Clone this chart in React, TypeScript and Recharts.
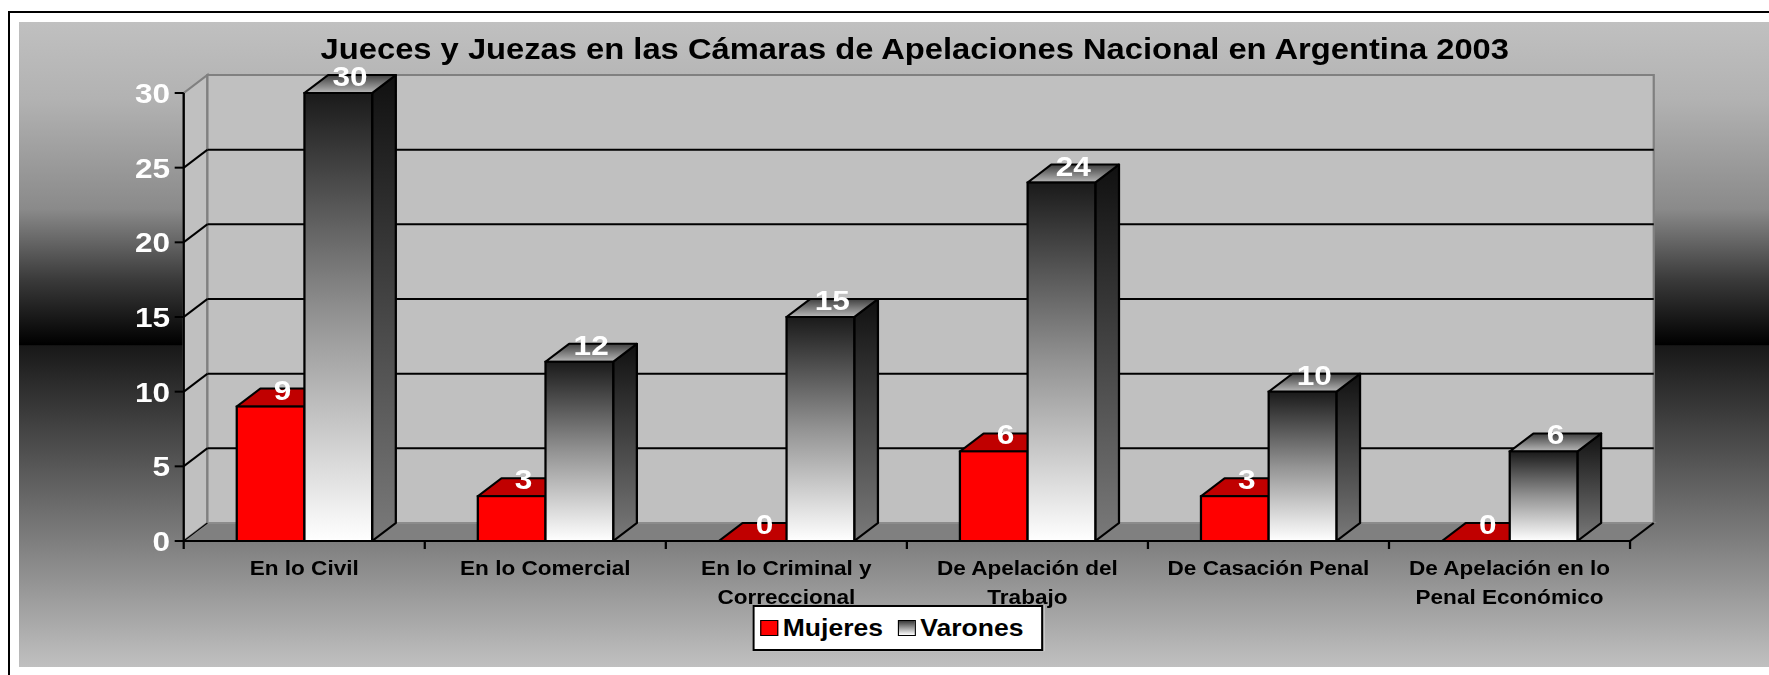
import React from 'react';
import { BarChart, Bar, XAxis, YAxis, CartesianGrid, LabelList, Legend } from 'recharts';

// ---------- data ----------
const chartTitle = 'Jueces y Juezas en las Cámaras de Apelaciones Nacional en Argentina 2003';
const categories = [
  'En lo Civil',
  'En lo Comercial',
  'En lo Criminal y Correccional',
  'De Apelación del Trabajo',
  'De Casación Penal',
  'De Apelación en lo Penal Económico',
];
const mujeres = [9, 3, 0, 6, 3, 0];
const varones = [30, 12, 15, 24, 10, 6];
const seriesNames = ['Mujeres', 'Varones'];
const yTicks = [0, 5, 10, 15, 20, 25, 30];

const data = categories.map((c, i) => ({ name: c, Mujeres: mujeres[i], Varones: varones[i] }));

// ---------- layout ----------
const S = 1769 / 1568; // horizontal stretch of the reference
const W = 1551;
const H = 645;
const DX = 21;
const DY = 18;
const M = { top: 71, right: 123, bottom: 46, left: 86 };
const YW = 60;
const XH = 80;
const plotLeft = M.left + YW;
const plotRight = W - M.right;
const plotTop = M.top;
const plotBottom = H - M.bottom - XH;
const FONT = '"Liberation Sans", Arial, sans-serif';

function wrap(text: string, max: number): string[] {
  const words = text.split(' ');
  const lines: string[] = [];
  let cur = '';
  for (const w of words) {
    const t = cur ? cur + ' ' + w : w;
    if (t.length > max && cur) {
      lines.push(cur);
      cur = w;
    } else cur = t;
  }
  if (cur) lines.push(cur);
  return lines;
}

const XTick = (p: any) => {
  const { x, y, payload, index } = p;
  const band = (plotRight - plotLeft) / categories.length;
  const lines = wrap(String(payload.value), 18);
  return (
    <g>
      <line x1={x - band / 2} y1={y} x2={x - band / 2} y2={y + 8} stroke="#000" strokeWidth={2} />
      {index === categories.length - 1 && (
        <line x1={x + band / 2} y1={y} x2={x + band / 2} y2={y + 8} stroke="#000" strokeWidth={2} />
      )}
      {lines.map((l, i) => (
        <text key={i} x={x} y={y + 34 + i * 29} textAnchor="middle" fontFamily={FONT} fontWeight="bold" fontSize={20} fill="#000">
          {l}
        </text>
      ))}
    </g>
  );
};

const makeShape = (kind: 'm' | 'v') => (p: any) => {
  const { x, y, width: w, height: h } = p;
  if (x == null || y == null) return <g />;
  const front = kind === 'm' ? '#ff0000' : 'url(#gFront)';
  const top = kind === 'm' ? '#c00000' : 'url(#gTop)';
  const side = kind === 'm' ? '#a00000' : 'url(#gSide)';
  const hh = Math.max(0, h);
  return (
    <g>
      <polygon
        points={`${x + w},${y} ${x + w + DX},${y - DY} ${x + w + DX},${y + hh - DY} ${x + w},${y + hh}`}
        fill={side}
        stroke="#000"
        strokeWidth={2}
        strokeLinejoin="round"
      />
      <polygon
        points={`${x},${y} ${x + DX},${y - DY} ${x + w + DX},${y - DY} ${x + w},${y}`}
        fill={top}
        stroke="#000"
        strokeWidth={2}
        strokeLinejoin="round"
      />
      {hh > 0 && <rect x={x} y={y} width={w} height={hh} fill={front} stroke="#000" strokeWidth={2} />}
    </g>
  );
};

const renderLabel = (p: any) => {
  const { x, y, width, value } = p;
  return (
    <text
      x={Number(x) + Number(width) / 2 + DX / 2}
      y={Number(y) - 7}
      textAnchor="middle"
      fontFamily={FONT}
      fontWeight="bold"
      fontSize={28}
      fill="#fff"
    >
      {value}
    </text>
  );
};

const gridLine = (p: any) => {
  const { x1, y1, x2, y, height, key } = p;
  if (Math.abs(y1 - y) < 1 || Math.abs(y1 - (y + height)) < 1) return <g key={key} />;
  return (
    <g key={key}>
      <line x1={x1} y1={y1} x2={x1 + DX} y2={y1 - DY} stroke="#000" strokeWidth={2} />
      <line x1={x1 + DX} y1={y1 - DY} x2={x2 + DX} y2={y1 - DY} stroke="#000" strokeWidth={2} />
    </g>
  );
};

const LegendBox = () => {
  const sw = [
    { name: seriesNames[0], bg: '#ff0000' },
    { name: seriesNames[1], bg: 'linear-gradient(to bottom, #3a3a3a, #ffffff)' },
  ];
  return (
    <div
      style={{
        width: 258,
        height: 46,
        boxSizing: 'border-box',
        border: '2px solid #000',
        background: '#fff',
        display: 'flex',
        alignItems: 'center',
        paddingLeft: 5,
        fontFamily: FONT,
        fontWeight: 'bold',
        fontSize: 23.5,
        color: '#000',
        whiteSpace: 'nowrap',
      }}
    >
      {sw.map((s, i) => (
        <div key={s.name} style={{ display: 'flex', alignItems: 'center', marginRight: i === 0 ? 13 : 0 }}>
          <div style={{ width: 16, height: 16, boxSizing: 'border-box', border: '1.5px solid #000', background: s.bg, marginRight: 4 }} />
          <span>{s.name}</span>
        </div>
      ))}
    </div>
  );
};

export default function App() {
  return (
    <div style={{ position: 'fixed', left: 0, top: 0, width: 1769, height: 675, overflow: 'hidden', background: '#fff' }}>
      <div
        style={{
          position: 'absolute',
          left: 8,
          top: 11,
          width: 1800,
          height: 700,
          borderLeft: '2px solid #000',
          borderTop: '2px solid #000',
        }}
      />
      <div
        style={{
          position: 'absolute',
          left: 19,
          top: 22,
          width: 1750,
          height: 645,
          background:
            'linear-gradient(to bottom, #c0c0c0 0%, #b2b2b2 12%, #8a8a8a 29%, #3a3a3a 40%, #000000 50%, #181818 50.2%, #c0c0c0 100%)',
        }}
      />
      <div
        style={{
          position: 'absolute',
          left: 19,
          top: 22,
          width: W,
          height: H,
          transform: `scaleX(${S})`,
          transformOrigin: '0 0',
        }}
      >
        <svg width={W} height={H} style={{ position: 'absolute', left: 0, top: 0 }}>
          <defs>
            <linearGradient id="gFront" x1="0" y1="0" x2="0" y2="1">
              <stop offset="0" stopColor="#1a1a1a" />
              <stop offset="0.5" stopColor="#939393" />
              <stop offset="1" stopColor="#ffffff" />
            </linearGradient>
            <linearGradient id="gSide" x1="0" y1="0" x2="0" y2="1">
              <stop offset="0" stopColor="#101010" />
              <stop offset="1" stopColor="#7a7a7a" />
            </linearGradient>
            <linearGradient id="gTop" x1="0" y1="0" x2="0" y2="1">
              <stop offset="0" stopColor="#404040" />
              <stop offset="1" stopColor="#b8b8b8" />
            </linearGradient>
          </defs>
          {/* left wall */}
          <polygon
            points={`${plotLeft},${plotTop} ${plotLeft + DX},${plotTop - DY} ${plotLeft + DX},${plotBottom - DY} ${plotLeft},${plotBottom}`}
            fill="#c0c0c0"
            stroke="#808080"
            strokeWidth={2}
          />
          {/* back wall */}
          <rect
            x={plotLeft + DX}
            y={plotTop - DY}
            width={plotRight - plotLeft}
            height={plotBottom - plotTop}
            fill="#c0c0c0"
            stroke="#808080"
            strokeWidth={2}
          />
          {/* floor */}
          <polygon
            points={`${plotLeft},${plotBottom} ${plotRight},${plotBottom} ${plotRight + DX},${plotBottom - DY} ${plotLeft + DX},${plotBottom - DY}`}
            fill="#808080"
            stroke="#8c8c8c"
            strokeWidth={2}
          />
          <line x1={plotRight} y1={plotBottom} x2={plotRight + DX} y2={plotBottom - DY} stroke="#000" strokeWidth={2} />
          <line x1={plotLeft} y1={plotBottom} x2={plotLeft + DX} y2={plotBottom - DY} stroke="#000" strokeWidth={1} />
          <text x={794} y={37} textAnchor="middle" fontFamily={FONT} fontWeight="bold" fontSize={29} fill="#000">
            {chartTitle}
          </text>
        </svg>
        <div style={{ position: 'absolute', left: 0, top: 0 }}>
          <BarChart width={W} height={H} data={data} margin={M} barGap={0} barCategoryGap="22%">
            <CartesianGrid vertical={false} horizontal={gridLine} />
            <XAxis
              dataKey="name"
              height={XH}
              interval={0}
              tickLine={false}
              tickSize={0}
              tickMargin={0}
              axisLine={{ stroke: '#000', strokeWidth: 2 }}
              tick={<XTick />}
            />
            <YAxis
              width={YW}
              domain={[0, 30]}
              ticks={yTicks}
              interval={0}
              tickSize={8}
              tickMargin={4}
              tickLine={{ stroke: '#000', strokeWidth: 2 }}
              axisLine={{ stroke: '#000', strokeWidth: 2 }}
              tick={{ fill: '#fff', fontSize: 28, fontWeight: 'bold', fontFamily: FONT }}
            />
            <Legend
              layout="horizontal"
              verticalAlign="middle"
              align="center"
              wrapperStyle={{ left: 650, top: 583, width: 258, height: 46 }}
              content={() => <LegendBox />}
            />
            <Bar dataKey="Mujeres" fill="#ff0000" isAnimationActive={false} shape={makeShape('m')}>
              <LabelList dataKey="Mujeres" content={renderLabel} />
            </Bar>
            <Bar dataKey="Varones" fill="#808080" isAnimationActive={false} shape={makeShape('v')}>
              <LabelList dataKey="Varones" content={renderLabel} />
            </Bar>
          </BarChart>
        </div>
      </div>
    </div>
  );
}
